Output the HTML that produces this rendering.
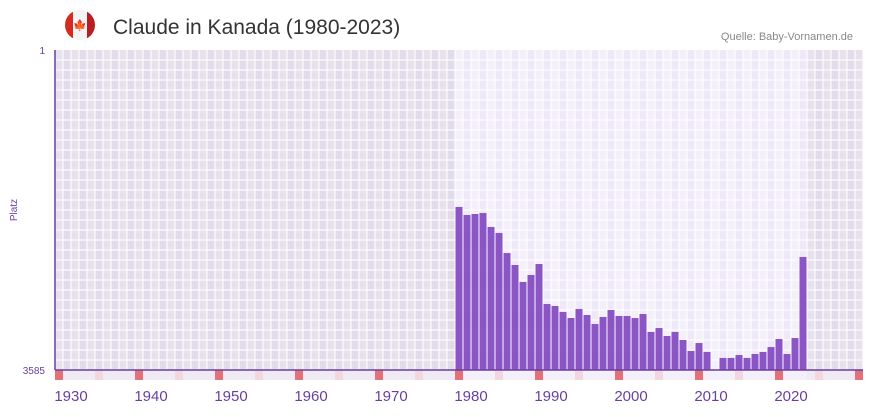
<!DOCTYPE html>
<html><head><meta charset="utf-8"><style>
body{margin:0;background:#fff;font-family:"Liberation Sans",sans-serif;}
svg text{font-family:"Liberation Sans",sans-serif;}
</style></head><body>
<svg id="c" width="873" height="412">
<g>
<clipPath id="fc"><circle cx="80" cy="25" r="15"/></clipPath>
<g clip-path="url(#fc)"><rect x="65" y="10" width="30" height="30" fill="#f4f4f4"/><rect x="65" y="10" width="8" height="30" fill="#d52b1e"/><rect x="87" y="10" width="8" height="30" fill="#b81e22"/></g>
<text x="80" y="29" font-size="11" fill="#d52b1e" text-anchor="middle">🍁</text>
</g>
<text x="113" y="34" font-size="21" fill="#333">Claude in Kanada (1980-2023)</text>
<text x="853" y="40" font-size="11" fill="#888" text-anchor="end">Quelle: Baby-Vornamen.de</text>
<text x="45" y="54" font-size="10" fill="#6a3fa0" text-anchor="end">1</text>
<text x="45" y="374" font-size="10" fill="#6a3fa0" text-anchor="end">3585</text>
<text x="17" y="210" font-size="10" fill="#6a3fa0" text-anchor="middle" transform="rotate(-90 17 210)">Platz</text>
<g id="bg"></g><g id="bars"></g><g id="xl"></g>
</svg>
<script>
const years=[1978,1979,1980,1981,1982,1983,1984,1985,1986,1987,1988,1989,1990,1991,1992,1993,1994,1995,1996,1997,1998,1999,2000,2001,2002,2003,2004,2005,2006,2007,2008,2009,2010,2011,2012,2013,2014,2015,2016,2017,2018,2019,2020,2021];
const ranks=[1759,1849,1838,1827,1983,2050,2275,2409,2599,2521,2398,2846,2868,2935,3003,2902,2969,3070,2991,2913,2980,2980,3003,2958,3159,3115,3204,3159,3249,3372,3283,3383,null,3450,3450,3417,3450,3406,3383,3328,3238,3406,3227,2319];
const xTicks=[1930,1940,1950,1960,1970,1980,1990,2000,2010,2020];
const NS='http://www.w3.org/2000/svg';
const X0=55,X1=863,Y0=50,Y1=370,yMin=1928,yMax=2029,rMin=1,rMax=3585;
const xs=y=>X0+(y-yMin)*(X1-X0)/(yMax-yMin);
const ys=r=>Y0+(r-rMin)*(Y1-Y0)/(rMax-rMin);
function mk(t,a,p){const e=document.createElementNS(NS,t);for(const k in a)e.setAttribute(k,a[k]);p.appendChild(e);return e;}
const bg=document.getElementById('bg'),bars=document.getElementById('bars'),xl=document.getElementById('xl');
const w=xs(1)-xs(0);
for(let y=yMin;y<yMax;y++){
  const act=y>=years[0]&&y<=years[years.length-1];
  const c=act?(y%2?'#efe8f8':'#f3effb'):(y%2?'#e2dcea':'#e6e1ed');
  const r=mk('rect',{x:xs(y),y:Y0,width:w,height:Y1-Y0,fill:c},bg);
  
  
  const m=mk('rect',{x:xs(y),y:Y1,width:w,height:10,fill:(y%10==8)?'#e5707a':(y%10==3)?'#f3d6de':(act?'#f3effb':'#efeaf3')},bg);
  
  
}
for(let y=yMin;y<=yMax;y++)mk('line',{x1:xs(y),x2:xs(y),y1:Y0,y2:Y1,stroke:'#fff','stroke-width':1.5,'stroke-opacity':0.7},bg);
for(let yy=Y0+10;yy<Y1;yy+=10)mk('line',{x1:X0,x2:X1,y1:yy,y2:yy,stroke:'#fff','stroke-width':1.5,'stroke-opacity':0.7},bg);
years.forEach((y,i)=>{if(ranks[i]==null)return;
  const b=mk('rect',{x:xs(y)+0.5,y:ys(ranks[i]),width:w-1,height:Y1-ys(ranks[i]),fill:'#8b55c6'},bars);
  
  
});
mk('line',{x1:X0,x2:X1,y1:Y1,y2:Y1,stroke:'#6a3fa0','stroke-width':1.5},bars);
mk('line',{x1:X0,x2:X0,y1:Y0,y2:Y1,stroke:'#6a3fa0','stroke-width':1.5},bars);
xTicks.forEach(t=>{const e=mk('text',{x:xs(t),y:401,'font-size':15,fill:'#6a3fa0','text-anchor':'middle'},xl);e.textContent=t;
  
  
});
</script>
</body></html>
